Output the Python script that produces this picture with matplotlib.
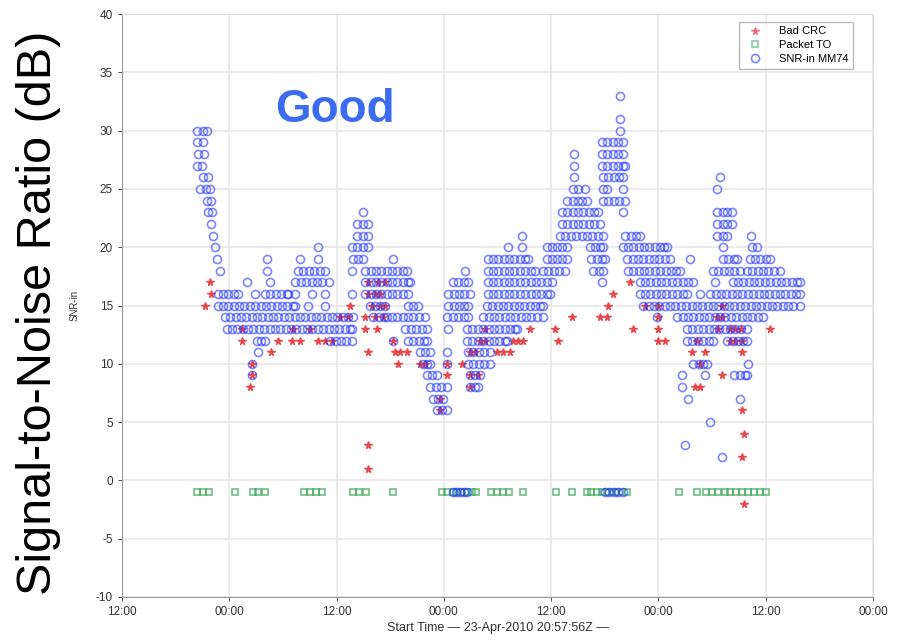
import matplotlib
matplotlib.use("Agg")
import matplotlib.pyplot as plt
import matplotlib.dates as mdates
import pandas as pd

# time axis: hours after 23-Apr-2010 12:00
t0 = pd.Timestamp("2010-04-23 12:00")
t_end = pd.Timestamp("2010-04-27 00:00")

# SNR-in MM74 samples, keyed by SNR level (dB) -> hours
snr_rows = {
    33: [55.7],
    31: [55.7],
    30: [8.4, 9.1, 9.5, 55.7],
    29: [8.4, 9.1, 53.7, 54.3, 54.9, 55.5, 56.0],
    28: [8.5, 9.2, 50.6, 53.7, 54.3, 54.9, 55.5, 56.0],
    27: [8.4, 8.9, 50.6, 53.7, 54.3, 54.9, 55.5, 56.0, 56.3],
    26: [9.1, 9.6, 50.6, 53.8, 54.4, 55.0, 55.6, 56.0, 66.9],
    25: [8.7, 9.4, 9.8, 50.4, 51.0, 51.8, 53.8, 54.3, 56.0, 66.6],
    24: [9.5, 10.0, 49.8, 50.4, 51.0, 51.5, 52.0, 53.8, 54.4, 55.0, 55.6, 56.3],
    23: [9.6, 10.1, 26.9, 49.2, 49.8, 50.4, 51.0, 51.6, 52.2, 52.8, 53.2, 56.0,
         66.6, 67.2, 67.7, 68.2],
    22: [10.0, 26.3, 26.9, 27.5, 49.2, 49.8, 50.4, 51.0, 51.6, 52.2, 52.8, 53.5,
         66.6, 67.2, 67.7, 68.2],
    21: [10.2, 26.3, 26.9, 27.5, 44.7, 49.0, 49.6, 50.2, 50.8, 51.4, 52.0, 52.6,
         53.2, 53.8, 56.3, 56.9, 57.5, 57.9, 66.6, 67.2, 67.7, 70.4],
    20: [10.4, 21.9, 25.7, 26.3, 26.9, 27.5, 43.2, 44.7, 47.5, 48.1, 48.7, 49.2,
         49.8, 52.3, 52.9, 53.5, 53.8, 56.0, 56.6, 57.2, 57.8, 58.4, 59.0, 59.6,
         60.2, 60.6, 61.0, 67.2, 70.5, 71.0],
    19: [10.6, 16.2, 19.9, 21.9, 25.8, 26.4, 27.0, 30.3, 40.9, 41.5, 42.1, 42.7,
         43.3, 43.9, 44.5, 45.1, 45.4, 47.5, 48.1, 48.7, 49.2, 49.8, 52.5, 53.1,
         53.7, 54.0, 56.5, 57.1, 57.7, 58.3, 58.9, 59.5, 60.1, 60.7, 61.3, 63.5,
         67.2, 67.8, 68.4, 68.8, 70.2, 70.8, 71.4, 72.0, 72.5],
    18: [11.0, 16.2, 19.7, 20.3, 20.9, 21.5, 22.1, 22.7, 25.7, 27.2, 27.8, 28.4,
         29.0, 29.6, 30.2, 30.8, 31.4, 31.9, 38.4, 40.9, 41.5, 42.1, 42.7, 43.3,
         43.9, 44.5, 45.1, 45.7, 46.2, 47.1, 47.7, 48.3, 48.9, 49.5, 52.7, 53.3,
         53.8, 56.6, 57.2, 57.8, 58.4, 59.0, 59.6, 60.2, 60.8, 61.4, 62.0, 62.4,
         66.1, 66.7, 67.3, 67.9, 68.5, 69.1, 69.9, 70.5, 71.1, 71.7, 72.3, 72.9,
         73.6],
    17: [14.0, 16.6, 19.4, 20.0, 20.6, 21.2, 21.8, 22.4, 23.1, 27.2, 27.8, 28.4,
         29.0, 29.6, 30.2, 30.8, 31.4, 32.0, 32.2, 37.0, 37.6, 38.2, 38.7, 40.9,
         41.5, 42.1, 42.7, 43.3, 43.9, 44.5, 45.1, 45.7, 46.3, 46.9, 47.5, 48.1,
         53.7, 57.9, 58.5, 59.1, 59.7, 60.3, 60.9, 61.5, 62.1, 62.7, 63.3, 63.9,
         66.3, 68.3, 68.9, 69.5, 70.1, 70.7, 71.3, 71.9, 72.5, 73.1, 73.7, 74.3,
         74.9, 75.5, 75.8],
    16: [10.7, 11.3, 11.9, 12.5, 13.0, 14.9, 16.0, 16.6, 17.2, 17.8, 18.4, 18.6,
         19.4, 21.3, 22.7, 25.7, 27.2, 27.8, 28.4, 29.0, 29.6, 30.2, 30.8, 31.4,
         32.0, 36.5, 37.1, 37.7, 38.3, 38.9, 40.9, 41.5, 42.1, 42.7, 43.3, 43.9,
         44.5, 45.1, 45.7, 46.3, 46.9, 47.5, 47.9, 57.9, 58.5, 59.1, 59.7, 60.3,
         60.9, 61.5, 62.1, 62.7, 63.2, 64.7, 65.8, 66.4, 67.0, 67.6, 68.2, 68.8,
         69.4, 70.0, 70.6, 71.2, 71.8, 72.4, 73.0, 73.6, 74.2, 74.8, 75.4, 75.8],
    15: [10.7, 11.3, 11.9, 12.5, 13.1, 13.7, 14.3, 14.9, 15.5, 16.1, 16.7, 17.3,
         17.9, 18.5, 19.1, 19.4, 20.8, 22.7, 27.7, 28.3, 28.9, 29.4, 32.0, 32.6,
         33.1, 36.5, 37.1, 37.7, 38.3, 38.7, 40.8, 41.4, 42.0, 42.6, 43.2, 43.8,
         44.4, 45.0, 45.6, 46.2, 46.8, 47.1, 58.3, 58.9, 59.5, 60.1, 60.7, 61.3,
         61.9, 62.5, 63.1, 63.7, 64.3, 64.9, 65.5, 66.1, 66.7, 67.3, 67.9, 68.5,
         69.1, 69.7, 70.3, 70.9, 71.5, 72.1, 72.7, 73.3, 73.9, 74.5, 75.1, 75.8],
    14: [11.5, 12.1, 12.7, 13.3, 13.9, 14.5, 15.1, 15.7, 16.3, 16.9, 17.5, 18.1,
         18.7, 19.3, 19.9, 20.5, 21.1, 21.7, 22.3, 22.9, 23.5, 24.1, 24.7, 25.3,
         25.8, 28.1, 28.7, 29.3, 29.6, 30.2, 30.8, 31.4, 32.0, 32.6, 33.2, 33.9,
         36.4, 37.0, 37.6, 38.2, 38.7, 40.4, 41.0, 41.6, 42.2, 42.8, 43.4, 44.0,
         44.6, 45.2, 45.8, 46.4, 47.1, 59.8, 62.1, 62.7, 63.3, 63.9, 64.5, 65.1,
         65.7, 66.3, 66.9, 67.5, 68.1, 68.7, 69.3, 69.9, 70.5, 71.1, 71.7],
    13: [11.7, 12.3, 12.9, 13.5, 14.1, 14.7, 15.3, 15.9, 16.5, 17.1, 17.7, 18.3,
         18.9, 19.5, 20.1, 20.7, 21.3, 21.9, 22.5, 23.1, 23.7, 24.3, 24.9, 25.5,
         25.7, 31.7, 32.3, 32.9, 33.5, 34.1, 36.5, 38.6, 39.2, 39.8, 40.4, 41.0,
         41.6, 42.2, 42.8, 43.4, 44.0, 44.2, 63.2, 63.8, 64.4, 65.0, 65.6, 66.2,
         66.8, 67.4, 68.0, 68.6, 69.2, 69.9],
    12: [15.1, 15.6, 16.0, 23.3, 23.9, 24.5, 25.1, 25.7, 30.3, 32.0, 32.6, 33.2,
         33.8, 34.1, 38.6, 39.2, 39.8, 40.4, 41.0, 41.6, 42.2, 42.8, 43.1, 63.2,
         63.8, 64.4, 65.0, 65.6, 66.1, 67.7, 68.3, 68.9, 69.5, 69.9],
    11: [15.2, 33.3, 33.9, 34.5, 36.4, 38.7, 39.3, 39.9, 40.5, 41.2],
    10: [14.5, 33.7, 34.1, 34.5, 36.4, 38.7, 39.3, 39.9, 40.5, 41.2, 63.9, 64.5,
         65.0, 65.4, 70.0],
    9: [14.5, 34.1, 34.7, 35.2, 38.9, 39.5, 40.0, 62.6, 65.2, 68.5, 69.1, 69.7, 69.9],
    8: [34.5, 35.1, 35.7, 36.4, 38.9, 39.5, 39.8, 62.6],
    7: [34.8, 35.4, 35.9, 63.3, 69.1],
    6: [35.2, 35.8, 36.3],
    5: [65.8],
    3: [63.0],
    2: [67.1],
    -1: [37.0, 37.4, 37.8, 38.2, 38.6, 54.0, 54.5, 55.0, 55.5, 56.0],
}

# Bad CRC samples, keyed by SNR level (dB) -> hours
crc_rows = {
    17: [9.8, 27.5, 28.6, 29.4, 56.8],
    16: [10.0, 27.5, 28.3, 28.9, 54.9],
    15: [9.3, 25.5, 28.0, 28.9, 29.4, 54.4, 58.5, 60.0, 67.1],
    14: [24.4, 25.3, 27.2, 28.3, 29.2, 50.3, 53.5, 54.3, 60.0, 66.5, 67.1],
    13: [13.4, 19.1, 21.0, 27.2, 28.5, 40.6, 45.6, 48.4, 57.2, 60.0, 66.7, 68.0,
         68.6, 69.2, 72.5],
    12: [13.4, 17.5, 19.0, 19.9, 21.9, 22.7, 23.5, 30.3, 40.0, 40.6, 43.7, 44.3,
         44.8, 48.8, 60.0, 60.7, 64.3, 68.0, 68.6, 69.4],
    11: [16.7, 27.5, 30.5, 31.1, 31.9, 38.9, 39.5, 41.9, 42.6, 43.4, 63.8, 65.2, 69.4],
    10: [14.5, 30.9, 33.3, 33.9, 36.4, 38.0, 64.7],
    9: [14.5, 36.4, 38.9, 39.8, 67.1],
    8: [14.3, 38.9, 64.1, 64.7],
    7: [35.6],
    6: [35.6, 69.3],
    4: [69.6],
    3: [27.5],
    2: [69.4],
    1: [27.5],
    -2: [69.6],
}

# Packet timeouts, all drawn at -1 dB
packet_to_level = -1
packet_to_hours = [8.4, 9.1, 9.7, 12.6, 14.7, 15.2, 16.0, 20.4, 21.0, 21.7, 22.4,
                   25.8, 26.5, 27.3, 30.3, 35.8, 36.4, 37.0, 37.5, 38.0, 38.6,
                   39.2, 39.6, 41.3, 41.9, 42.6, 43.3, 44.8, 48.5, 50.3, 52.0,
                   52.5, 53.1, 53.7, 54.2, 54.8, 55.3, 55.9, 56.5, 62.3, 64.3,
                   65.3, 66.0, 66.7, 67.4, 68.0, 68.7, 69.4, 70.0, 70.7, 71.4, 72.0]


def flatten(rows):
    xs, ys = [], []
    for level, hours in rows.items():
        for h in hours:
            xs.append(t0 + pd.Timedelta(hours=h))
            ys.append(level)
    return xs, ys


plt.rcParams["font.family"] = ["Liberation Sans", "DejaVu Sans"]
plt.rcParams["axes.unicode_minus"] = False

fig = plt.figure(figsize=(8.99, 6.40), dpi=100)
ax = fig.add_axes([0.1357, 0.0672, 0.8354, 0.9108])

crc_x, crc_y = flatten(crc_rows)
to_x = [t0 + pd.Timedelta(hours=h) for h in packet_to_hours]
to_y = [packet_to_level] * len(to_x)
snr_x, snr_y = flatten(snr_rows)

ax.plot(crc_x, crc_y, linestyle="none", marker="*", ms=5.5, color="#e8383d",
        alpha=0.85, label="Bad CRC")
ax.plot(to_x, to_y, linestyle="none", marker="s", ms=5, mfc="none",
        mec="#3bab58", mew=1.2, alpha=0.75, label="Packet TO")
ax.plot(snr_x, snr_y, linestyle="none", marker="o", ms=5.8, mfc="none",
        mec="#2436ff", mew=1.2, alpha=0.6, label="SNR-in MM74")

ax.set_xlim(t0, t_end)
ax.set_ylim(-10, 40)
ax.set_yticks(range(-10, 41, 5))
ax.xaxis.set_major_locator(mdates.HourLocator(byhour=[0, 12]))
ax.xaxis.set_major_formatter(mdates.DateFormatter("%H:%M"))
ax.grid(True, color="#e8e8e8", linewidth=1.2)
ax.set_axisbelow(True)
ax.tick_params(labelsize=8.5, colors="#333333", length=3, width=0.6)
for side in ["left", "bottom"]:
    ax.spines[side].set_color("#999999")
for side in ["top", "right"]:
    ax.spines[side].set_color("#dddddd")

ax.set_xlabel("Start Time — 23-Apr-2010 20:57:56Z —", fontsize=9, color="#333333",
              labelpad=3)
ax.set_ylabel("SNR-in", fontsize=7, color="#333333", labelpad=12)

leg = ax.legend(loc="upper right", bbox_to_anchor=(853 / 899, 1 - 22 / 640),
                bbox_transform=fig.transFigure, fontsize=8, frameon=True,
                fancybox=False, edgecolor="#aaaaaa", borderaxespad=0,
                handletextpad=1.2, labelspacing=0.35)
for h in leg.legend_handles:
    h.set_alpha(0.6)

fig.text(335 / 899, 1 - 110 / 640, "Good", fontsize=33, fontweight="bold",
         color="#3b6cf0", ha="center", va="center")
fig.text(39 / 899, 0.5 + 0.012, "Signal-to-Noise Ratio (dB)", fontsize=35,
         rotation=90, ha="center", va="center", color="black")

fig.savefig("out.png", dpi=100)
